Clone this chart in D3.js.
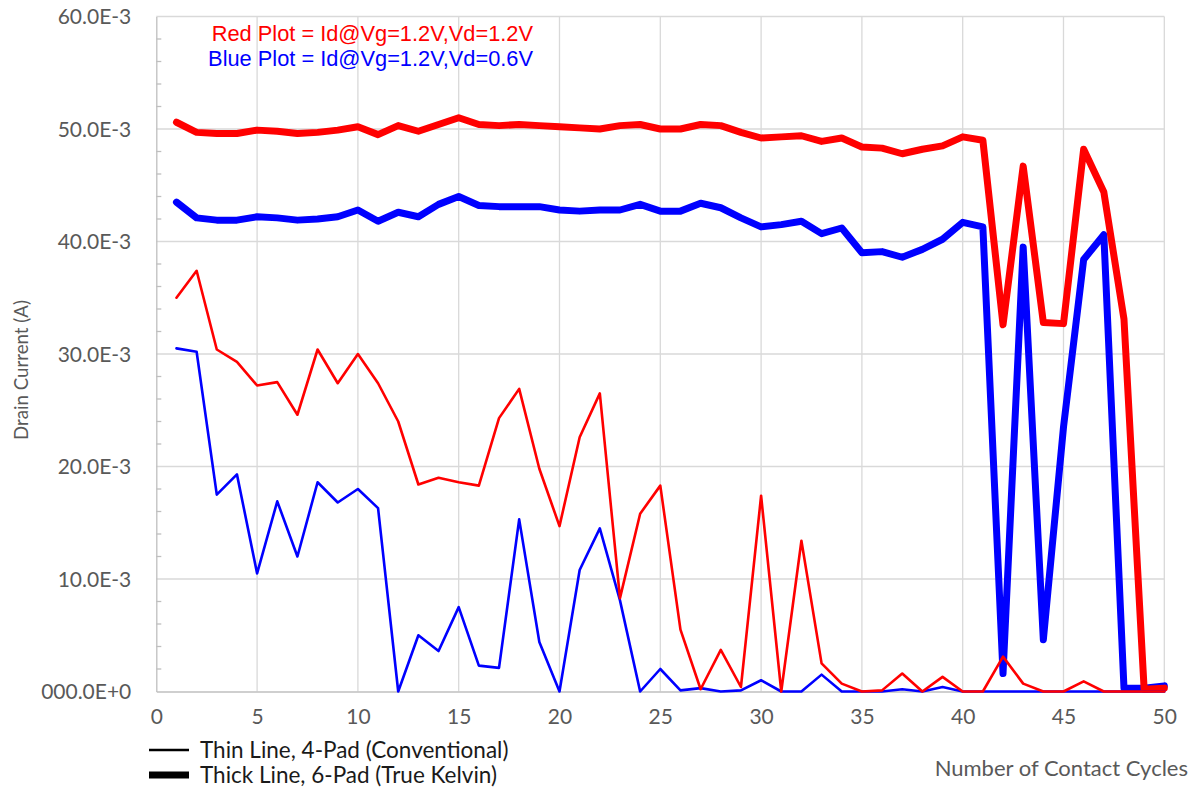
<!DOCTYPE html>
<html>
<head>
<meta charset="utf-8">
<script src="https://cdn.jsdelivr.net/npm/d3@7"></script>
<style>
  html, body { margin: 0; padding: 0; background: #fff; }
  svg { display: block; font-family: Lato, "Open Sans", sans-serif; }
</style>
</head>
<body>
<svg id="chart" width="1193" height="794"></svg>
<script>
// Contact cycle number (x) for every measurement
const cycles = d3.range(1, 51);

// Drain current in mA, one value per cycle
// Thick lines: 6-pad true Kelvin probing
const kelvinVd12 = [
  50.6, 49.7, 49.6, 49.6, 49.9, 49.8, 49.6, 49.7, 49.9, 50.2,
  49.5, 50.3, 49.8, 50.4, 51.0, 50.4, 50.3, 50.4, 50.3, 50.2,
  50.1, 50.0, 50.3, 50.4, 50.0, 50.0, 50.4, 50.3, 49.7, 49.2,
  49.3, 49.4, 48.9, 49.2, 48.4, 48.3, 47.8, 48.2, 48.5, 49.3,
  49.0, 32.6, 46.7, 32.8, 32.7, 48.2, 44.4, 33.1, 0.2, 0.3
];
const kelvinVd06 = [
  43.5, 42.1, 41.9, 41.9, 42.2, 42.1, 41.9, 42.0, 42.2, 42.8,
  41.8, 42.6, 42.2, 43.3, 44.0, 43.2, 43.1, 43.1, 43.1, 42.8,
  42.7, 42.8, 42.8, 43.3, 42.7, 42.7, 43.4, 43.0, 42.1, 41.3,
  41.5, 41.8, 40.7, 41.2, 39.0, 39.1, 38.6, 39.3, 40.2, 41.7,
  41.3, 1.6, 39.5, 4.6, 23.5, 38.4, 40.6, 0.3, 0.3, 0.5
];
// Thin lines: conventional 4-pad probing
const fourPadVd12 = [
  35.0, 37.4, 30.4, 29.3, 27.2, 27.5, 24.6, 30.4, 27.4, 30.0,
  27.4, 24.0, 18.4, 19.0, 18.6, 18.3, 24.3, 26.9, 19.8, 14.7,
  22.6, 26.5, 8.3, 15.8, 18.3, 5.5, 0.2, 3.7, 0.4, 17.4,
  0.0, 13.4, 2.5, 0.7, 0.0, 0.1, 1.6, 0.0, 1.3, 0.0,
  0.0, 3.1, 0.7, 0.0, 0.0, 0.9, 0.0, 0.0, 0.0, 0.0
];
const fourPadVd06 = [
  30.5, 30.2, 17.5, 19.3, 10.5, 16.9, 12.0, 18.6, 16.8, 18.0,
  16.3, 0.0, 5.0, 3.6, 7.5, 2.3, 2.1, 15.3, 4.4, 0.0,
  10.8, 14.5, 8.1, 0.0, 2.0, 0.1, 0.3, 0.0, 0.1, 1.0,
  0.0, 0.0, 1.5, 0.0, 0.0, 0.0, 0.2, 0.0, 0.4, 0.0,
  0.0, 0.0, 0.0, 0.0, 0.0, 0.0, 0.0, 0.0, 0.0, 0.0
];

// Axis ticks and their labels
const xTicks = [0, 5, 10, 15, 20, 25, 30, 35, 40, 45, 50];
const yTicks = [0, 10, 20, 30, 40, 50, 60];
const yTickLabels = ["000.0E+0", "10.0E-3", "20.0E-3", "30.0E-3", "40.0E-3", "50.0E-3", "60.0E-3"];
const yMinorTicks = d3.range(2, 60, 2).filter(v => v % 10 !== 0);

// Text
const annotationLines = ["Red Plot = Id@Vg=1.2V,Vd=1.2V", "Blue Plot = Id@Vg=1.2V,Vd=0.6V"];
const annotationColors = ["#ff0000", "#0000ff"];
const legendLabels = ["Thin Line, 4-Pad (Conventional)", "Thick Line, 6-Pad (True Kelvin)"];
const xTitle = "Number of Contact Cycles";
const yTitle = "Drain Current (A)";

// Series definitions: drawing order back to front
const series = [
  { values: kelvinVd06, color: "#0000ff", width: 7 },
  { values: kelvinVd12, color: "#ff0000", width: 7 },
  { values: fourPadVd06, color: "#0000ff", width: 2.6 },
  { values: fourPadVd12, color: "#ff0000", width: 2.6 }
];

const svg = d3.select("#chart");
const plot = { left: 156.3, right: 1164.3, top: 16.5, bottom: 691.5 };

const x = d3.scaleLinear().domain([0, 50]).range([plot.left, plot.right]);
const y = d3.scaleLinear().domain([0, 60]).range([plot.bottom, plot.top]);

const gridColor = "#d9d9d9";
const axisColor = "#bfbfbf";
const labelColor = "#595959";

// Gridlines
const grid = svg.append("g");
grid.selectAll(".vg").data(xTicks.slice(1)).join("line")
  .attr("x1", d => x(d)).attr("x2", d => x(d))
  .attr("y1", plot.top).attr("y2", plot.bottom)
  .attr("stroke", gridColor).attr("stroke-width", 1.3);
grid.selectAll(".hg").data(yTicks.slice(1)).join("line")
  .attr("x1", plot.left).attr("x2", plot.right)
  .attr("y1", d => y(d)).attr("y2", d => y(d))
  .attr("stroke", gridColor).attr("stroke-width", 1.3);

// Y axis: line, inner minor ticks, labels
const yAxis = d3.axisLeft(y).tickValues(yTicks)
  .tickFormat((d, i) => yTickLabels[i]).tickSize(0).tickPadding(25);
const gy = svg.append("g").attr("transform", `translate(${plot.left},0)`).call(yAxis);
gy.select(".domain").attr("stroke", axisColor).attr("stroke-width", 1.3);
gy.selectAll("text").attr("fill", labelColor).style("font-size", "21px")
  .style("font-family", "Lato, sans-serif").attr("dy", "0.35em");
svg.append("g").selectAll("line").data(yMinorTicks).join("line")
  .attr("x1", plot.left).attr("x2", plot.left + 5)
  .attr("y1", d => y(d)).attr("y2", d => y(d))
  .attr("stroke", axisColor).attr("stroke-width", 1.3);

// X axis
const xAxis = d3.axisBottom(x).tickValues(xTicks).tickSize(0).tickPadding(18);
const gx = svg.append("g").attr("transform", `translate(0,${plot.bottom})`).call(xAxis);
gx.select(".domain").attr("stroke", axisColor).attr("stroke-width", 1.3);
gx.selectAll("text").attr("fill", labelColor).style("font-size", "21px")
  .style("font-family", "Lato, sans-serif");

// Data lines
const line = d3.line()
  .x((d, i) => x(cycles[i]))
  .y(d => y(d));
svg.append("g").selectAll("path").data(series).join("path")
  .attr("d", s => line(s.values))
  .attr("fill", "none")
  .attr("stroke", s => s.color)
  .attr("stroke-width", s => s.width)
  .attr("stroke-linejoin", "round")
  .attr("stroke-linecap", "round");

// Two-line annotation explaining the colours
svg.append("g")
  .attr("text-anchor", "end")
  .style("font-family", "'Liberation Sans', Arial, sans-serif")
  .style("font-size", "21.8px")
  .selectAll("text").data(annotationLines).join("text")
  .attr("x", 533)
  .attr("y", (d, i) => 41 + i * 24.6)
  .attr("fill", (d, i) => annotationColors[i])
  .text(d => d);

// Legend for line thickness
const legend = svg.append("g");
const legendRows = legend.selectAll("g").data(legendLabels).join("g")
  .attr("transform", (d, i) => `translate(149,${750 + i * 25})`);
legendRows.append("line")
  .attr("x1", 0).attr("x2", 40).attr("y1", 0).attr("y2", 0)
  .attr("stroke", "#000")
  .attr("stroke-width", (d, i) => i === 0 ? 2.6 : 7);
legendRows.append("text")
  .attr("x", 51).attr("dy", "0.35em")
  .attr("fill", "#1a1a1a").style("font-size", "22.5px")
  .text(d => d);

// Axis titles
svg.append("text")
  .attr("x", 1188).attr("y", 768).attr("dy", "0.35em")
  .attr("text-anchor", "end").attr("fill", labelColor)
  .style("font-size", "22px").text(xTitle);
svg.append("text")
  .attr("transform", "translate(21,370) rotate(-90)")
  .attr("dy", "0.35em").attr("text-anchor", "middle")
  .attr("fill", labelColor).style("font-size", "18.7px").text(yTitle);
</script>
</body>
</html>
